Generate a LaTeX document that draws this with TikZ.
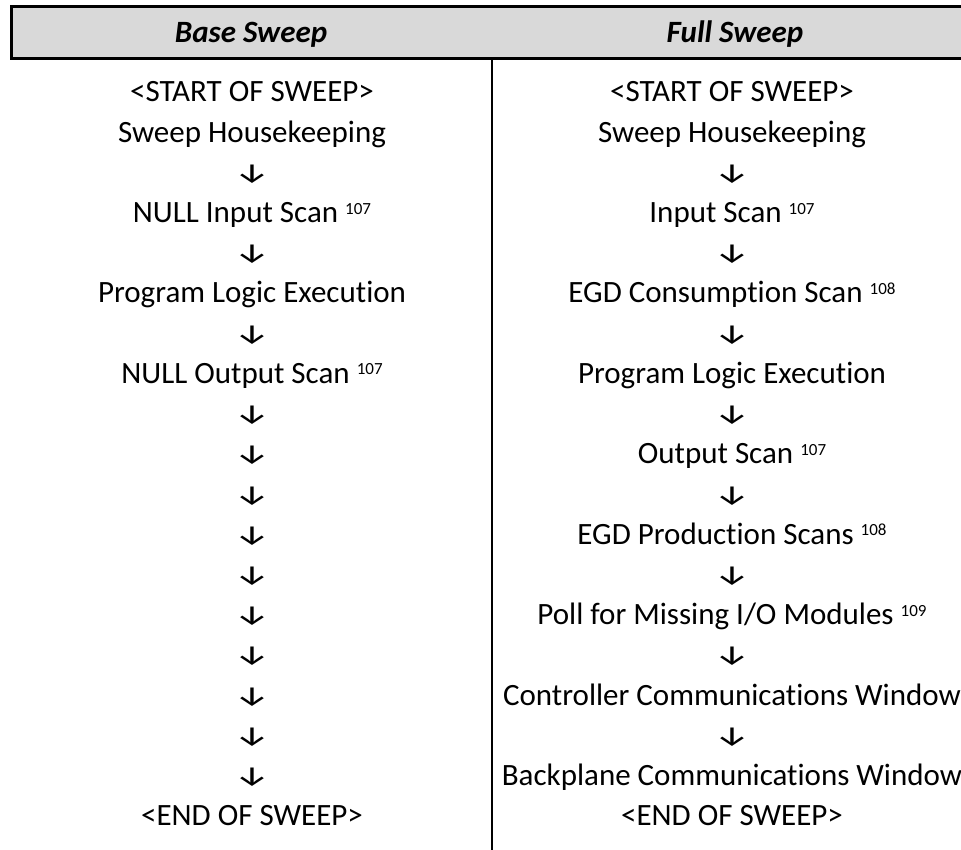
\documentclass[tikz,border=0pt]{standalone}
\usepackage{fontspec}
\setmainfont{Carlito}[Ligatures=NoCommon]
\newfontfamily\arrowfont{Fira Sans}
\usepackage{tikz}
\usetikzlibrary{positioning}
\definecolor{headgray}{RGB}{217,217,217}
\tikzset{
  cell/.style={inner sep=0pt,anchor=base,font=\fontsize{31}{33}\selectfont},
  dn/.style={inner sep=0pt,anchor=base,font=\arrowfont\fontsize{29}{31}\selectfont},
  head/.style={inner sep=0pt,anchor=base,font=\fontsize{31}{33}\selectfont\bfseries\itshape},
  rule/.style={draw=black,line width=3pt,line join=miter},
  divider/.style={draw=black,line width=2.6pt},
}
\newcommand{\fnref}[1]{\raisebox{8.5pt}{\fontsize{17}{17}\selectfont #1}}
\newcommand{\dnarrow}{\scalebox{1.3}[0.95]{↓}}
% baseline of table row n
\newcommand{\rowy}[1]{{102+40.2*#1}}

\begin{document}
\begin{tikzpicture}[x=1pt,y=-1pt]
  \useasboundingbox (0,0) rectangle (961,850);
  % header band
  \fill[headgray] (11.5,6.5) rectangle (961,58.5);
  \draw[rule] (961,6.5) -- (11.5,6.5) -- (11.5,58.5) -- (961,58.5);
  \draw[divider] (492,58.5) -- (492,850);
  \node[head] (hbase) at (251,42.5) {Base Sweep};
  \node[head] (hfull) at (735,42.5) {Full Sweep};
  % base sweep
  \node[cell] (b0) at (252,\rowy{0}) {<START OF SWEEP>};
  \node[cell] (b1) at (252,\rowy{1}) {Sweep Housekeeping};
  \node[dn]   (b2) at (252,\rowy{2}) {\dnarrow};
  \node[cell] (b3) at (252,\rowy{3}) {NULL Input Scan \fnref{107}};
  \node[dn]   (b4) at (252,\rowy{4}) {\dnarrow};
  \node[cell] (b5) at (252,\rowy{5}) {Program Logic Execution};
  \node[dn]   (b6) at (252,\rowy{6}) {\dnarrow};
  \node[cell] (b7) at (252,\rowy{7}) {NULL Output Scan \fnref{107}};
  \foreach \i in {8,...,17}
    \node[dn] (b\i) at (252,\rowy{\i}) {\dnarrow};
  \node[cell] (b18) at (252,\rowy{18}) {<END OF SWEEP>};
  % full sweep
  \node[cell] (f0) at (732,\rowy{0}) {<START OF SWEEP>};
  \node[cell] (f1) at (732,\rowy{1}) {Sweep Housekeeping};
  \node[cell] (f3) at (732,\rowy{3}) {Input Scan \fnref{107}};
  \node[cell] (f5) at (732,\rowy{5}) {EGD Consumption Scan \fnref{108}};
  \node[cell] (f7) at (732,\rowy{7}) {Program Logic Execution};
  \node[cell] (f9) at (732,\rowy{9}) {Output Scan \fnref{107}};
  \node[cell] (f11) at (732,\rowy{11}) {EGD Production Scans \fnref{108}};
  \node[cell] (f13) at (732,\rowy{13}) {Poll for Missing I/O Modules \fnref{109}};
  \node[cell] (f15) at (732,\rowy{15}) {Controller Communications Window};
  \node[cell] (f17) at (732,\rowy{17}) {Backplane Communications Window};
  \node[cell] (f18) at (732,\rowy{18}) {<END OF SWEEP>};
  \foreach \i in {2,4,...,16}
    \node[dn] (f\i) at (732,\rowy{\i}) {\dnarrow};
\end{tikzpicture}
\end{document}
